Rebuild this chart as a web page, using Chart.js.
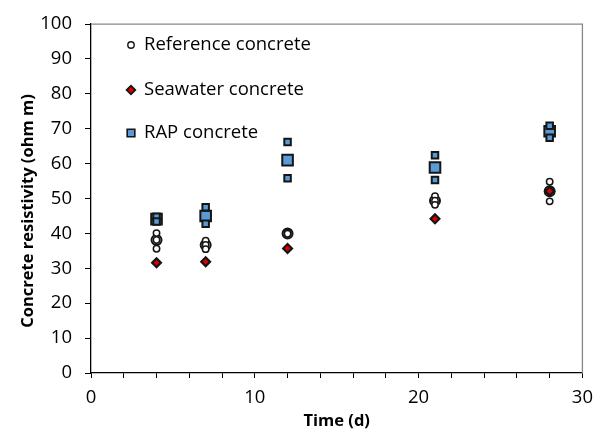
<!DOCTYPE html>
<html><head><meta charset="utf-8">
<script src="https://cdn.jsdelivr.net/npm/chart.js@4/dist/chart.umd.min.js"></script>
<style>html,body{margin:0;padding:0;background:#fff}#wrap{width:602px;height:432px;position:relative}</style>
</head><body><div id="wrap"><canvas id="c" width="602" height="432"></canvas></div>
<script>
// ---- data ----
const days = [4, 7, 12, 21, 28];
const refSamples = [[40.1, 38.1, 35.6], [37.9, 36.7, 35.5], [40.0, 40.2, 39.9], [50.7, 49.4, 48.2], [54.8, 52.1, 49.2]];
const refMean = [38.1, 36.7, 40.0, 49.4, 52.1];
const seawater = [31.6, 31.9, 35.7, 44.2, 52.1];
const rapSamples = [[44.8, 43.4], [47.5, 42.8], [66.2, 55.8], [62.4, 55.3], [70.9, 67.4]];
const rapMean = [44.1, 45.0, 61.0, 58.9, 69.3];
const seriesNames = ['Reference concrete', 'Seawater concrete', 'RAP concrete'];
const xTickLabels = [0, 10, 20, 30];
const yTickLabels = [0, 10, 20, 30, 40, 50, 60, 70, 80, 90, 100];
const xTitle = 'Time (d)';
const yTitle = 'Concrete resistivity (ohm m)';

// ---- build point lists ----
const pts = (vals) => vals.map((v, i) => ({x: days[i], y: v}));
const ptsMulti = (arr) => arr.flatMap((vs, i) => vs.map(v => ({x: days[i], y: v})));

const FONT = '"Open Sans", Lato, sans-serif';
const DARK = '#151515';
const BLUE = '#5b9bd5';
const RED = '#e00000';

const legendPlugin = {
  id: 'insideLegend',
  afterDatasetsDraw(chart) {
    const ctx = chart.ctx;
    const items = [
      {y: 45, style: 'circle', r: 3.2, fill: '#fff', bw: 1.4},
      {y: 90, style: 'rectRot', r: 4.3, fill: RED, bw: 1.8},
      {y: 133, style: 'rect', r: 5.4, fill: BLUE, bw: 1.6}
    ];
    items.forEach((it, i) => {
      ctx.save();
      ctx.fillStyle = it.fill; ctx.strokeStyle = DARK; ctx.lineWidth = it.bw;
      Chart.helpers.drawPoint(ctx, {pointStyle: it.style, radius: it.r, borderWidth: it.bw}, 131, it.y);
      ctx.restore();
      ctx.save();
      ctx.fillStyle = '#000';
      ctx.font = '18.5px ' + FONT;
      ctx.textBaseline = 'middle';
      ctx.textAlign = 'left';
      ctx.fillText(seriesNames[i], 144, it.y);
      ctx.restore();
    });
  }
};

const framePlugin = {
  id: 'frame',
  beforeDatasetsDraw(chart) {
    const a = chart.chartArea, ctx = chart.ctx;
    ctx.save();
    ctx.strokeStyle = '#888';
    ctx.lineWidth = 1.3;
    ctx.beginPath();
    ctx.moveTo(a.left, a.top); ctx.lineTo(a.right, a.top); ctx.lineTo(a.right, a.bottom);
    ctx.stroke();
    ctx.restore();
  },
  afterDraw(chart) {
    const ctx = chart.ctx;
    ctx.save();
    ctx.fillStyle = '#000';
    ctx.font = 'bold 16.5px ' + FONT;
    ctx.translate(28, 211);
    ctx.rotate(-Math.PI / 2);
    ctx.textAlign = 'center';
    ctx.textBaseline = 'middle';
    ctx.fillText(yTitle, 0, 0);
    ctx.restore();
  }
};

const common = {showLine: false, borderColor: DARK};
new Chart(document.getElementById('c'), {
  type: 'scatter',
  data: {
    datasets: [
      {...common, label: seriesNames[0] + ' (samples)', data: ptsMulti(refSamples), pointStyle: 'circle', pointRadius: 3.2, borderWidth: 1.5, backgroundColor: '#fff', order: 5},
      {...common, label: seriesNames[0], data: pts(refMean), pointStyle: 'circle', pointRadius: 5, borderWidth: 2, backgroundColor: '#fff', order: 6},
      {...common, label: seriesNames[1], data: pts(seawater), pointStyle: 'rectRot', pointRadius: 4.4, borderWidth: 2.2, backgroundColor: RED, order: 4},
      {...common, label: seriesNames[2] + ' (samples)', data: ptsMulti(rapSamples), pointStyle: 'rect', pointRadius: 4.6, borderWidth: 2, backgroundColor: BLUE, order: 2},
      {...common, label: seriesNames[2], data: pts(rapMean), pointStyle: 'rect', pointRadius: 7.5, borderWidth: 2, backgroundColor: BLUE, order: 3}
    ]
  },
  options: {
    responsive: false, animation: false, devicePixelRatio: 1,
    layout: {padding: {top: 20, right: 19, left: 0, bottom: 0}},
    plugins: {legend: {display: false}, tooltip: {enabled: false}},
    scales: {
      x: {
        type: 'linear', min: 0, max: 30,
        afterFit: s => { s.height = 59; },
        afterBuildTicks: s => { s.ticks = []; for (let v = 0; v <= 30; v += 2) s.ticks.push({value: v}); },
        ticks: {autoSkip: false, maxRotation: 0, padding: 9, color: '#000', font: {family: FONT, size: 18.5},
          callback: v => xTickLabels.includes(v) ? String(v) : ''},
        grid: {drawOnChartArea: false, drawTicks: true, tickLength: 5, color: '#000', lineWidth: 1},
        border: {color: '#000', width: 1.3},
        title: {display: true, text: xTitle, color: '#000', font: {family: FONT, size: 16.5, weight: 'bold'}, padding: {top: 0, bottom: 1}}
      },
      y: {
        min: 0, max: 100,
        afterFit: s => { s.width = 91; },
        afterBuildTicks: s => { s.ticks = yTickLabels.map(v => ({value: v})); },
        ticks: {padding: 13, color: '#000', font: {family: FONT, size: 18.5}},
        grid: {drawOnChartArea: false, drawTicks: true, tickLength: 6, color: '#000', lineWidth: 1},
        border: {color: '#000', width: 1.3}
      }
    }
  },
  plugins: [framePlugin, legendPlugin]
});
</script></body></html>
